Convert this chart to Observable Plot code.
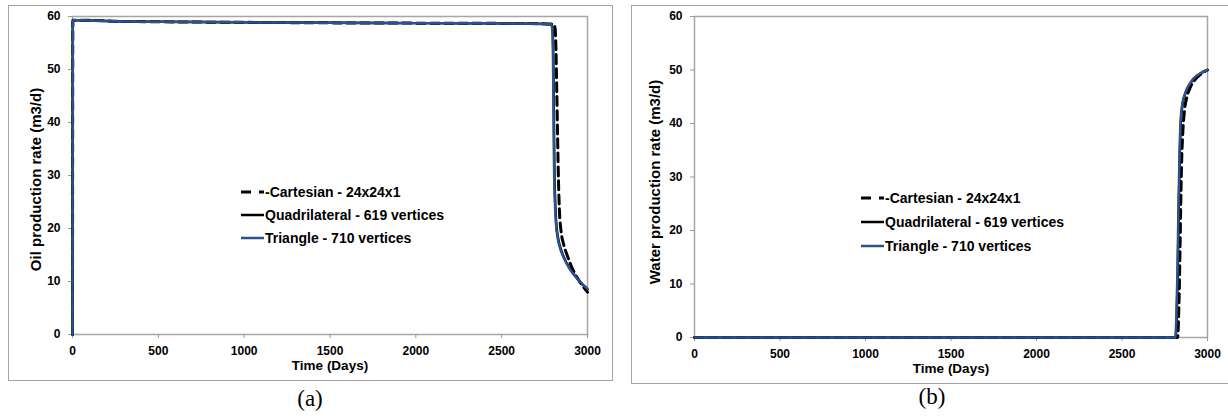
<!DOCTYPE html>
<html>
<head>
<meta charset="utf-8">
<script src="https://cdn.jsdelivr.net/npm/d3@7"></script>
<script src="https://cdn.jsdelivr.net/npm/@observablehq/plot@0.6"></script>
<style>
  html, body { margin: 0; padding: 0; background: #fff; }
  #page { position: relative; width: 1228px; height: 418px; overflow: hidden; background: #fff; font-family: "Liberation Sans", Arial, sans-serif; }
  .box { position: absolute; border: 1.5px solid #a3a3a3; box-sizing: border-box; }
  .plotwrap { position: absolute; }
  .legend { position: absolute; font-weight: bold; font-size: 14px; color: #000; }
  .legend .row { display: flex; align-items: center; white-space: nowrap; }
  .legend svg { display: block; margin-right: 1px; }
  .cap { position: absolute; font-family: "Liberation Serif", "Times New Roman", serif; font-size: 23px; color: #000; transform: translate(-50%, -50%); }
</style>
</head>
<body>
<div id="page"></div>
<script>
// ---------- data ----------
const xTicks = [0, 500, 1000, 1500, 2000, 2500, 3000];
const yTicks = [0, 10, 20, 30, 40, 50, 60];
const seriesNames = ["-Cartesian - 24x24x1", "Quadrilateral - 619 vertices", "Triangle - 710 vertices"];
const captions = ["(a)", "(b)"];
const xTitle = "Time (Days)";
const yTitles = ["Oil production rate (m3/d)", "Water production rate (m3/d)"];

// Oil production rate (panel a)
const oilTriT  = [0, 2, 50, 250, 500, 1000, 1500, 2000, 2500, 2700, 2788, 2795, 2799, 2802, 2805, 2810, 2816, 2826, 2840, 2860, 2900, 2950, 3000];
const oilTriV  = [0, 59.3, 59.3, 59.1, 59.0, 58.9, 58.8, 58.75, 58.7, 58.65, 58.55, 57.5, 52, 42, 32, 25, 21, 18.3, 16.3, 14.6, 12.2, 10.2, 8.6];
const oilQuadT = [0, 2, 50, 250, 500, 1000, 1500, 2000, 2500, 2700, 2790, 2797, 2801, 2804, 2807, 2812, 2818, 2828, 2843, 2862, 2902, 2950, 3000];
const oilQuadV = [0, 59.3, 59.3, 59.1, 59.0, 58.9, 58.8, 58.75, 58.7, 58.65, 58.55, 57.5, 52, 42, 32, 25, 21, 18.3, 16.3, 14.6, 12.2, 10.2, 8.5];
const oilCartT = [0, 2, 50, 250, 500, 1000, 1500, 2000, 2500, 2700, 2802, 2811, 2816, 2821, 2826, 2831, 2837, 2846, 2861, 2881, 2911, 2950, 3000];
const oilCartV = [0, 59.3, 59.3, 59.1, 59.0, 58.9, 58.8, 58.75, 58.7, 58.65, 58.55, 57.8, 54, 46, 37, 29, 23, 19.5, 17, 15, 12.5, 10.2, 8.0];

// Water production rate (panel b)
const watTriT  = [0, 500, 1000, 1500, 2000, 2500, 2812, 2818, 2824, 2830, 2836, 2842, 2852, 2871, 2900, 2918, 2960, 3000];
const watTriV  = [0, 0, 0, 0, 0, 0, 0, 4, 12, 24, 34, 40, 43.5, 45.8, 47.6, 48.4, 49.4, 50.0];
const watQuadT = [0, 500, 1000, 1500, 2000, 2500, 2814, 2820, 2826, 2832, 2838, 2844, 2854, 2873, 2902, 2920, 2960, 3000];
const watQuadV = [0, 0, 0, 0, 0, 0, 0, 4, 12, 24, 34, 40, 43.5, 45.8, 47.6, 48.4, 49.4, 50.0];
const watCartT = [0, 500, 1000, 1500, 2000, 2500, 2825, 2832, 2838, 2843, 2848, 2855, 2865, 2880, 2900, 2930, 2960, 3000];
const watCartV = [0, 0, 0, 0, 0, 0, 0, 5, 14, 24, 32, 38, 42.3, 45, 46.8, 48.3, 49.2, 50.0];

const colors = ["#000000", "#000000", "#2a5290"];

// ---------- helpers ----------
const table = (T, V) => T.map((t, i) => ({t, v: V[i]}));

function makePlot({width, height, ml, mr, mt, mb, tri, quad, cart, yTitle, yTitleDx, yTitleDy, xTitleDy}) {
  return Plot.plot({
    width, height,
    marginLeft: ml, marginRight: mr, marginTop: mt, marginBottom: mb,
    x: {domain: [0, 3000]},
    y: {domain: [0, 60]},
    style: {fontFamily: "'Liberation Sans', Arial, sans-serif", fontWeight: "bold", fontSize: "12px", background: "transparent", color: "#000"},
    marks: [
      Plot.frame({stroke: "#a6a6a6", strokeWidth: 1.5}),
      Plot.axisX({ticks: xTicks, tickFormat: "d", tickSize: 4, tickPadding: 8, stroke: "#999", fill: "#000", label: null}),
      Plot.axisY({ticks: yTicks, tickFormat: "d", tickSize: 4, tickPadding: 8, stroke: "#999", fill: "#000", label: null}),
      Plot.line(cart, {x: "t", y: "v", stroke: colors[0], strokeWidth: 3, strokeDasharray: "9,5", curve: "monotone-x"}),
      Plot.line(quad, {x: "t", y: "v", stroke: colors[1], strokeWidth: 2.5, curve: "monotone-x"}),
      Plot.line(tri, {x: "t", y: "v", stroke: colors[2], strokeWidth: 2.5, curve: "monotone-x"}),
      Plot.text([xTitle], {text: d => d, frameAnchor: "bottom", dy: xTitleDy, fontSize: 13.5, fontWeight: "bold", fill: "#000"}),
      Plot.text([yTitle], {text: d => d, frameAnchor: "left", dx: yTitleDx, dy: yTitleDy, rotate: -90, textAnchor: "middle", fontSize: 15, fontWeight: "bold", fill: "#000"})
    ]
  });
}

function makeLegend(left, top, rowH) {
  const lg = document.createElement("div");
  lg.className = "legend";
  lg.style.left = left + "px";
  lg.style.top = top + "px";
  seriesNames.forEach((name, i) => {
    const row = document.createElement("div");
    row.className = "row";
    row.style.height = rowH + "px";
    const dash = i === 0 ? ' stroke-dasharray="10,8"' : "";
    row.innerHTML = `<svg width="23" height="6"><line x1="0" y1="3" x2="23" y2="3" stroke="${colors[i]}" stroke-width="${i === 0 ? 3 : 2.5}"${dash}/></svg><span>${name}</span>`;
    lg.appendChild(row);
  });
  return lg;
}

function place(el, left, top, w, h, cls) {
  const d = document.createElement("div");
  d.className = cls;
  d.style.left = left + "px";
  d.style.top = top + "px";
  if (w != null) d.style.width = w + "px";
  if (h != null) d.style.height = h + "px";
  if (el) d.appendChild(el);
  return d;
}

const page = document.getElementById("page");

// panel (a)
page.appendChild(place(null, 8, 5, 605, 376, "box"));
const pa = makePlot({width: 604, height: 375, ml: 64, mr: 25, mt: 11, mb: 46,
  tri: table(oilTriT, oilTriV), quad: table(oilQuadT, oilQuadV), cart: table(oilCartT, oilCartV),
  yTitle: yTitles[0], yTitleDx: -36, yTitleDy: 4, xTitleDy: 35});
page.appendChild(place(pa, 8, 5, null, null, "plotwrap"));
page.appendChild(makeLegend(241, 180, 23.3));

// panel (b)
page.appendChild(place(null, 631, 5, 620, 379, "box"));
const pb = makePlot({width: 597, height: 378, ml: 63, mr: 21, mt: 11, mb: 46,
  tri: table(watTriT, watTriV), quad: table(watQuadT, watQuadV), cart: table(watCartT, watCartV),
  yTitle: yTitles[1], yTitleDx: -39, yTitleDy: 5, xTitleDy: 35});
page.appendChild(place(pb, 631, 5, null, null, "plotwrap"));
page.appendChild(makeLegend(861, 186, 24));

// captions
const capA = document.createElement("div"); capA.className = "cap"; capA.textContent = captions[0];
capA.style.left = "310px"; capA.style.top = "399px"; page.appendChild(capA);
const capB = document.createElement("div"); capB.className = "cap"; capB.textContent = captions[1];
capB.style.left = "932px"; capB.style.top = "397px"; page.appendChild(capB);
</script>
</body>
</html>
